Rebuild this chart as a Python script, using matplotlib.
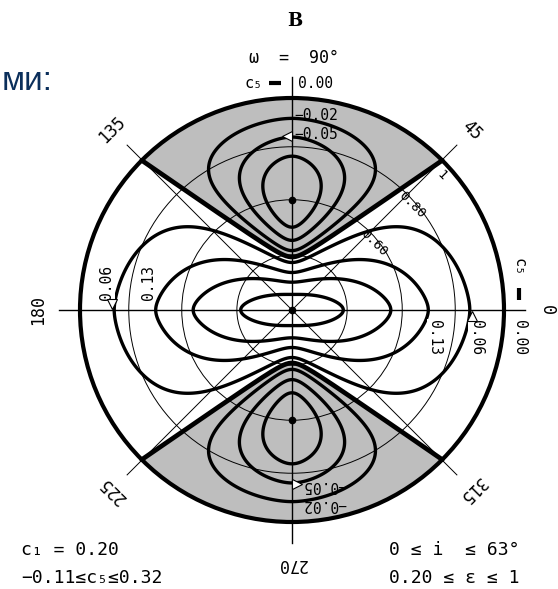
import numpy as np
import matplotlib
matplotlib.use("Agg")
import matplotlib.pyplot as plt
from matplotlib.patches import Circle, Polygon

# ---------------- values ----------------
neg_levels = [-0.08, -0.05, -0.02]          # c5 contours inside the shaded lobes
pos_levels = [0.06, 0.13, 0.19, 0.26]       # c5 contours around the centre
c5_min, c5_max = -0.11, 0.32
c1_value = 0.20
incl_range = (0, 63)
ecc_range = (0.20, 1)
omega_deg = 90

# shape of the c5 = 0 boundary (radius of its tip on the 90/270 axis, arm slope, tip rounding)
tip_r = 0.25
arm_slope = 0.69
tip_round = 0.05
# fall-off exponents of the positive and negative parts
pos_exp_r, pos_exp_w, pos_soft = 1.18, 0.7, 0.04
neg_exp_s, neg_exp_q = 1.08, 1.65

grid_r = [0.26, 0.52, 0.77]
minimum_r = 0.52
spoke_angles = [0, 45, 135, 180, 225, 270, 315]
spoke_text = ["0", "45", "135", "180", "225", "270", "315"]
ecc_ticks = ["0.60", "0.80", "1"]
ecc_tick_r = [0.50, 0.75, 0.95]

MONO = "DejaVu Sans Mono"


# ---------------- field ----------------
def zero_boundary(x):
    return tip_r + arm_slope * (np.sqrt(x ** 2 + tip_round ** 2) - tip_round)


def soft_abs(v):
    return np.sqrt(v ** 2 + pos_soft ** 2) - pos_soft


def raw_field(x, y):
    r = np.hypot(x, y)
    h = zero_boundary(x)
    ay = np.abs(y)
    w = np.clip(soft_abs(y) / soft_abs(h), 0.0, 1.0)
    pos = c5_max * np.clip(1 - r ** pos_exp_r, 0, None) * (1 - w) ** pos_exp_w
    neg = np.clip(ay - h, 0, None) ** neg_exp_s * np.clip(1 - r, 0, None) ** neg_exp_q
    return pos, neg, ay < h


gx = np.linspace(-1, 1, 901)
X, Y = np.meshgrid(gx, gx)
_, neg_raw, _ = raw_field(X, Y)
neg_scale = -c5_min / neg_raw.max()


def c5_field(x, y):
    pos, neg, inside = raw_field(x, y)
    return np.where(inside, pos, -neg_scale * neg)


def outer_crossing(theta_deg, level):
    rr = np.linspace(0, 0.999, 6000)
    t = np.radians(theta_deg)
    v = c5_field(rr * np.cos(t), rr * np.sin(t)) - level
    idx = np.where(np.sign(v[:-1]) != np.sign(v[1:]))[0][-1]
    return rr[idx] + (rr[idx + 1] - rr[idx]) * v[idx] / (v[idx] - v[idx + 1])


def fmt(v):
    return f"{v:.2f}".replace("-", "\u2212")


# ---------------- figure ----------------
CX, CY, R, W, H = 292, 310, 212, 558, 589
fig = plt.figure(figsize=(W / 100, H / 100), dpi=100)
ax = fig.add_axes([0, 0, 1, 1])
ax.set_xlim(-CX / R, (W - CX) / R)
ax.set_ylim(-(H - CY) / R, CY / R)
ax.axis("off")

gray = "#bebebe"

# shaded lobes where c5 < 0
xs_end = np.linspace(0, 1, 20001)
x_e = xs_end[np.argmin(np.abs(xs_end ** 2 + zero_boundary(xs_end) ** 2 - 1))]
a_e = np.arctan2(zero_boundary(x_e), x_e)
vx = np.linspace(-x_e, x_e, 500)
vy = zero_boundary(vx)
arc = np.linspace(a_e, np.pi - a_e, 300)
for sgn in (1, -1):
    px = np.concatenate([vx, np.cos(arc)])
    py = sgn * np.concatenate([vy, np.sin(arc)])
    ax.add_patch(Polygon(np.c_[px, py], closed=True, fc=gray, ec="none", zorder=1))

# grid circles and spokes
for rg in grid_r:
    ax.add_patch(Circle((0, 0), rg, fill=False, lw=0.7, ec="k", zorder=2))
for a, lw in [(0, 1.0), (90, 1.0), (45, 0.7), (135, 0.7)]:
    t = np.radians(a)
    ax.plot([-1.1 * np.cos(t), 1.1 * np.cos(t)], [-1.1 * np.sin(t), 1.1 * np.sin(t)],
            color="k", lw=lw, zorder=2)

# contours
Z = c5_field(X, Y)
Z = np.ma.masked_where(np.hypot(X, Y) >= 0.999, Z)
ax.contour(X, Y, Z, levels=sorted(neg_levels + pos_levels), colors="k",
           linewidths=2.4, linestyles="solid", zorder=4)

# c5 = 0 boundary and rim
for sgn in (1, -1):
    ax.plot(vx, sgn * vy, color="k", lw=3.4, zorder=5, solid_capstyle="round")
ax.add_patch(Circle((0, 0), 1.0, fill=False, lw=3.0, ec="k", zorder=5))

# centre and minima
ax.plot([0, 0, 0], [0, minimum_r, -minimum_r], "o", color="k", ms=4.5, zorder=6)

# angle labels
for a, s in zip(spoke_angles, spoke_text):
    t = np.radians(a)
    ax.text(1.2 * np.cos(t), 1.2 * np.sin(t), s, rotation=a - 90, ha="center",
            va="center", fontsize=12, family=MONO, rotation_mode="anchor")

# eccentricity ticks along the 45 degree spoke
for s, rt in zip(ecc_ticks, ecc_tick_r):
    t = np.radians(45)
    ax.text(rt * np.cos(t) + 0.035, rt * np.sin(t) - 0.035, s, rotation=-45,
            ha="center", va="center", fontsize=9.5, family=MONO,
            rotation_mode="anchor", zorder=7)

lab = dict(fontsize=10.5, family=MONO, zorder=8)
# labels on the 90 / 270 axis
for lev in neg_levels[1:]:
    rc = outer_crossing(90, lev)
    ax.text(0.012, rc + 0.012, fmt(lev), ha="left", va="center", **lab)
    ax.text(0.05, -rc - 0.012, fmt(lev), ha="left", va="center", rotation=180, **lab)
r05 = outer_crossing(90, neg_levels[1])
ax.plot([-0.025], [r05 + 0.005], marker="<", ms=7, mfc="white", mec="k", mew=0.8, zorder=9)
ax.plot([0.025], [-r05 - 0.005], marker=">", ms=7, mfc="white", mec="k", mew=0.8, zorder=9)

# labels on the 0 / 180 axis
for lev in pos_levels[:2]:
    rc = outer_crossing(0, lev)
    ax.text(-rc - 0.035, 0.045, fmt(lev), ha="center", va="bottom", rotation=90,
            bbox=dict(fc="white", ec="none", pad=0.3), **lab)
    ax.text(rc + 0.03, -0.045, fmt(lev), ha="center", va="top", rotation=-90,
            bbox=dict(fc="white", ec="none", pad=0.3), **lab)
r06 = outer_crossing(0, pos_levels[0])
ax.plot([-r06 - 0.01], [0.03], marker="v", ms=7, mfc="white", mec="k", mew=0.8, zorder=9)
ax.plot([r06 + 0.01], [-0.03], marker="^", ms=7, mfc="white", mec="k", mew=0.8, zorder=9)

# rim contour key: c5 = 0.00
ax.text(-0.14, 1.07, "c\u2085", ha="right", va="center", fontsize=11, family=MONO)
ax.plot([-0.11, -0.05], [1.07, 1.07], color="k", lw=3, solid_capstyle="butt")
ax.text(0.03, 1.07, fmt(0.0), ha="left", va="center", fontsize=10.5, family=MONO)
ax.text(1.07, 0.16, "c\u2085", ha="center", va="bottom", rotation=-90, fontsize=11,
        family=MONO)
ax.plot([1.07, 1.07], [0.105, 0.045], color="k", lw=3, solid_capstyle="butt")
ax.text(1.075, -0.045, fmt(0.0), ha="center", va="top", rotation=-90, fontsize=10.5,
        family=MONO)

# titles and parameter notes
ax.text(0.014, 1.363, "B", ha="center", va="center", fontsize=13,
        family="DejaVu Serif", weight="bold")
ax.text(0.01, 1.19, f"\u03c9  =  {omega_deg}\u00b0", ha="center", va="center",
        fontsize=12, family=MONO)
note = dict(fontsize=13, family=MONO, ha="left", va="center")
ax.text(-1.278, -1.132, f"c\u2081 = {c1_value:.2f}", **note)
ax.text(-1.278, -1.262, f"{fmt(c5_min)}\u2264c\u2085\u2264{fmt(c5_max)}", **note)
ax.text(0.458, -1.132, f"{incl_range[0]} \u2264 i  \u2264 {incl_range[1]}\u00b0", **note)
ax.text(0.458, -1.262, f"{ecc_range[0]:.2f} \u2264 \u03b5 \u2264 {ecc_range[1]}", **note)

# slide heading fragment
ax.text(-1.372, 1.038, "ми:", ha="left", va="baseline", fontsize=24,
        family="Liberation Sans", color="#0b2f5b")

fig.savefig("out.png", dpi=100)
